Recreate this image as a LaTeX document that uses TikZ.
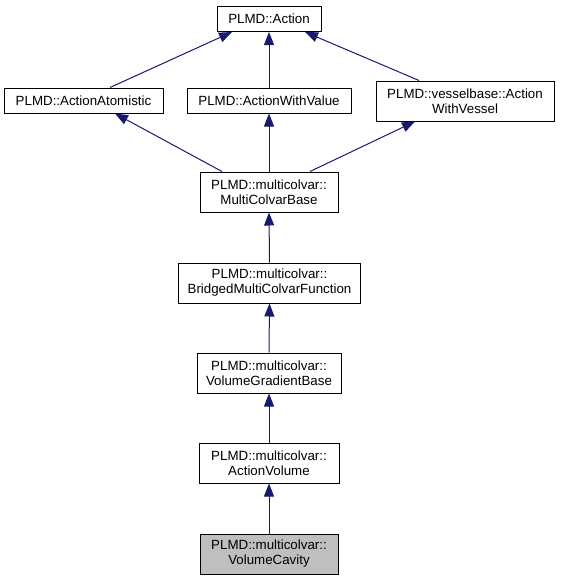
\documentclass[tikz,border=0pt]{standalone}
\usepackage{fontspec}
\setmainfont{Liberation Sans}
\usetikzlibrary{arrows.meta}
\definecolor{edgeblue}{HTML}{191970}
\definecolor{cavgray}{HTML}{BFBFBF}
\tikzset{
  cls/.style={draw=black, line width=1pt, fill=white, inner sep=0pt, align=center,
              font=\fontsize{13.33}{15}\selectfont},
  one/.style={cls, minimum height=25pt},
  two/.style={cls, minimum height=40pt},
  inh/.style={draw=edgeblue, line width=1pt, -{Triangle[length=13pt,width=10pt]}, fill=none},
}
\begin{document}
\begin{tikzpicture}[x=1pt,y=-1pt]
\useasboundingbox (0,0) rectangle (560,581);
\node[one, minimum width=104pt] (A) at (269,19) {PLMD::Action};
\node[one, minimum width=159pt] (AA) at (83.5,100.5) {PLMD::ActionAtomistic};
\node[one, minimum width=164pt] (AWV) at (269,100.5) {PLMD::ActionWithValue};
\node[two, minimum width=178pt] (VB) at (465,101) {PLMD::vesselbase::Action\\WithVessel};
\node[two, minimum width=138pt] (MCB) at (269,192) {PLMD::multicolvar::\\MultiColvarBase};
\node[two, minimum width=182pt] (BR) at (269.5,283) {PLMD::multicolvar::\\BridgedMultiColvarFunction};
\node[two, minimum width=144pt] (VGB) at (269,373) {PLMD::multicolvar::\\VolumeGradientBase};
\node[two, minimum width=140pt] (AV) at (269,463) {PLMD::multicolvar::\\ActionVolume};
\node[two, minimum width=138pt, fill=cavgray] (VC) at (269,554) {PLMD::multicolvar::\\VolumeCavity};

\draw[inh] ([xshift=26.5pt]AA.north) -- ([xshift=-37pt]A.south);
\draw[inh] (AWV.north) -- (A.south);
\draw[inh] ([xshift=-46pt]VB.north) -- ([xshift=36pt]A.south);
\draw[inh] ([xshift=-47pt]MCB.north) -- ([xshift=31.5pt]AA.south);
\draw[inh] (MCB.north) -- (AWV.south);
\draw[inh] ([xshift=41pt]MCB.north) -- ([xshift=-50pt]VB.south);
\draw[inh] (BR.north) -- (MCB.south);
\draw[inh] (VGB.north) -- (BR.south);
\draw[inh] (AV.north) -- (VGB.south);
\draw[inh] (VC.north) -- (AV.south);
\end{tikzpicture}
\end{document}
